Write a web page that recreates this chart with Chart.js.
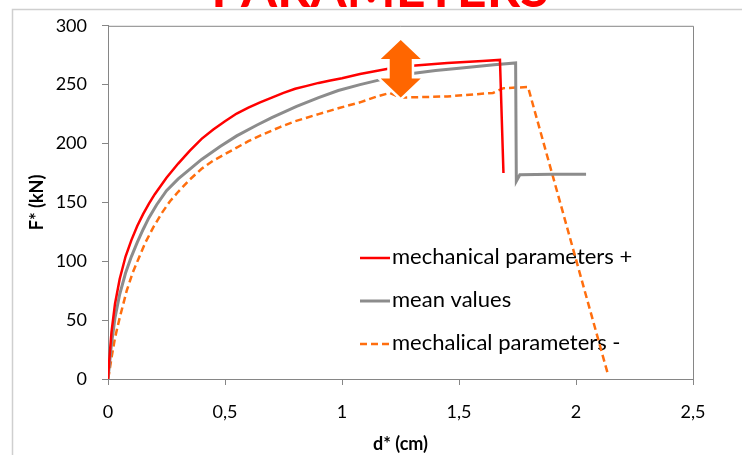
<!DOCTYPE html>
<html>
<head>
<meta charset="utf-8">
<script src="https://cdn.jsdelivr.net/npm/chart.js@4.4.0/dist/chart.umd.min.js"></script>
<style>
  html, body { margin: 0; padding: 0; background: #fff; }
  #wrap { width: 742px; height: 455px; position: relative; }
</style>
</head>
<body>
<div id="wrap"><canvas id="c" width="742" height="455"></canvas></div>
<script>
// ---- data ----
const titleText = 'PARAMETERS';
const seriesLabels = ['mechanical parameters +', 'mean values', 'mechalical parameters -'];

const plusX = [0, 0.005, 0.015, 0.03, 0.05, 0.075, 0.1, 0.125, 0.15, 0.175, 0.2, 0.25, 0.3, 0.35, 0.4, 0.45, 0.5, 0.55, 0.6, 0.65, 0.7, 0.75, 0.8, 0.85, 0.9, 0.95, 1.0, 1.077, 1.197, 1.30, 1.45, 1.60, 1.675, 1.69];
const plusY = [0, 15, 40, 64, 85, 104, 118, 130, 140, 149, 157, 171, 183, 194, 204, 212, 219, 225.5, 230.5, 235, 239, 243, 246.5, 249, 251.5, 253.5, 255.5, 259, 263.5, 266, 268.5, 270, 271, 175];

const meanX = [0, 0.005, 0.015, 0.03, 0.05, 0.075, 0.1, 0.125, 0.15, 0.175, 0.208, 0.25, 0.3, 0.336, 0.4, 0.479, 0.55, 0.635, 0.7, 0.806, 0.9, 0.984, 1.077, 1.17, 1.30, 1.4, 1.5, 1.65, 1.742, 1.745, 1.76, 1.9, 2.043];
const meanY = [0, 10, 30, 52, 72, 90, 104, 116, 127, 137, 148, 160, 170, 176, 186.5, 197.5, 206.5, 215.5, 222, 231.5, 239, 245, 250, 254.5, 259.5, 262, 264, 267, 268.5, 168, 173.5, 174, 174];

const minusX = [0, 0.005, 0.015, 0.03, 0.05, 0.08, 0.105, 0.13, 0.16, 0.194, 0.23, 0.265, 0.3, 0.35, 0.4, 0.45, 0.536, 0.6, 0.665, 0.735, 0.8, 0.9, 0.984, 1.077, 1.15, 1.205, 1.248, 1.45, 1.645, 1.69, 1.795, 2.135];
const minusY = [0, 5, 18, 35, 52, 75, 90, 102, 116, 129, 141, 151, 159, 169.5, 178.5, 185.5, 195, 202, 208, 214, 219, 225, 230, 235, 240, 243, 239, 240, 243, 247, 248, 5];

const xTickLabels = ['0', '0,5', '1', '1,5', '2', '2,5'];
const yTickLabels = ['0', '50', '100', '150', '200', '250', '300'];

// arrow annotation (data units): x centre, bottom tip, top tip
const arrowX = 1.251, arrowYLow = 239, arrowYHigh = 288;

const toPts = (xs, ys) => xs.map((x, i) => ({ x: x, y: ys[i] }));

const RED = '#ff0000', GRAY = '#8c8c8c', ORANGE = '#ff6e0e', AXIS = '#868686';
const FONT = 'Lato';

const framePlugin = {
  id: 'frame',
  beforeDraw(chart) {
    const ctx = chart.ctx;
    ctx.save();
    ctx.fillStyle = '#fff';
    ctx.fillRect(0, 0, chart.width, chart.height);
    // title (cut at top)
    ctx.fillStyle = '#ff0000';
    ctx.font = 'bold 52px ' + FONT;
    ctx.textAlign = 'center';
    ctx.textBaseline = 'alphabetic';
    ctx.fillText(titleText, 380, 7);
    // outer chart frame
    ctx.strokeStyle = '#cfcfcf';
    ctx.lineWidth = 1.5;
    ctx.beginPath();
    ctx.moveTo(742, 9.5);
    ctx.lineTo(12.5, 9.5);
    ctx.lineTo(12.5, 455);
    ctx.stroke();
    ctx.restore();
  },
  beforeDatasetsDraw(chart) {
    const ctx = chart.ctx, a = chart.chartArea;
    ctx.save();
    // plot border top/right
    ctx.strokeStyle = AXIS;
    ctx.lineWidth = 1;
    ctx.beginPath();
    ctx.moveTo(a.left, a.top + 0.5);
    ctx.lineTo(a.right + 0.5, a.top + 0.5);
    ctx.lineTo(a.right + 0.5, a.bottom);
    ctx.stroke();
    // legend inside plot
    const lx = 360, ly0 = 258, dy = 43;
    chart.data.datasets.forEach((ds, i) => {
      const y = ly0 + i * dy;
      ctx.strokeStyle = ds.borderColor;
      ctx.lineWidth = ds.borderWidth;
      ctx.setLineDash(ds.borderDash || []);
      ctx.beginPath();
      ctx.moveTo(lx, y);
      ctx.lineTo(lx + 30, y);
      ctx.stroke();
      ctx.setLineDash([]);
      ctx.fillStyle = '#000';
      ctx.font = '22px ' + FONT;
      ctx.textAlign = 'left';
      ctx.textBaseline = 'alphabetic';
      ctx.fillText(ds.label, lx + 32, y + 6);
    });
    ctx.restore();
  },
  afterDatasetsDraw(chart) {
    const ctx = chart.ctx;
    const xs = chart.scales.x, ys = chart.scales.y;
    const cx = xs.getPixelForValue(arrowX);
    const yt = ys.getPixelForValue(arrowYHigh);
    const yb = ys.getPixelForValue(arrowYLow);
    const hh = 19, hw = 20, sw = 11;
    ctx.save();
    ctx.beginPath();
    ctx.moveTo(cx, yt);
    ctx.lineTo(cx + hw, yt + hh);
    ctx.lineTo(cx + sw, yt + hh);
    ctx.lineTo(cx + sw, yb - hh);
    ctx.lineTo(cx + hw, yb - hh);
    ctx.lineTo(cx, yb);
    ctx.lineTo(cx - hw, yb - hh);
    ctx.lineTo(cx - sw, yb - hh);
    ctx.lineTo(cx - sw, yt + hh);
    ctx.lineTo(cx - hw, yt + hh);
    ctx.closePath();
    ctx.strokeStyle = '#fff';
    ctx.lineWidth = 5;
    ctx.lineJoin = 'miter';
    ctx.stroke();
    ctx.fillStyle = '#ff6600';
    ctx.fill();
    ctx.restore();
  }
};

new Chart(document.getElementById('c'), {
  type: 'line',
  data: {
    datasets: [
      { label: seriesLabels[0], data: toPts(plusX, plusY), borderColor: RED, borderWidth: 2.5, pointRadius: 0, tension: 0 },
      { label: seriesLabels[1], data: toPts(meanX, meanY), borderColor: GRAY, borderWidth: 3, pointRadius: 0, tension: 0 },
      { label: seriesLabels[2], data: toPts(minusX, minusY), borderColor: ORANGE, borderWidth: 2.5, borderDash: [7, 4], pointRadius: 0, tension: 0 }
    ]
  },
  options: {
    responsive: false,
    animation: false,
    events: [],
    layout: { padding: { top: 25, right: 49, left: 0, bottom: 0 } },
    plugins: { legend: { display: false }, tooltip: { enabled: false }, title: { display: false } },
    scales: {
      x: {
        type: 'linear', min: 0, max: 2.5,
        afterFit(s) { s.height = 76; },
        ticks: { stepSize: 0.5, color: '#000', font: { family: FONT, size: 18 }, padding: 16,
                 callback: (v) => xTickLabels[Math.round(v / 0.5)] },
        grid: { drawOnChartArea: false, drawTicks: true, tickLength: 6, color: AXIS },
        border: { display: true, color: AXIS, width: 1 },
        title: { display: true, text: 'd* (cm)', color: '#000', font: { family: FONT, size: 18, weight: 'bold' }, padding: { top: 0, bottom: 0 } }
      },
      y: {
        type: 'linear', min: 0, max: 300,
        afterFit(s) { s.width = 108; },
        ticks: { stepSize: 50, color: '#000', font: { family: FONT, size: 18 }, padding: 15,
                 callback: (v) => yTickLabels[Math.round(v / 50)] },
        grid: { drawOnChartArea: false, drawTicks: true, tickLength: 6, color: AXIS },
        border: { display: true, color: AXIS, width: 1 },
        title: { display: true, text: 'F* (kN)', color: '#000', font: { family: FONT, size: 18, weight: 'bold' }, padding: { top: 26, bottom: 0 } }
      }
    }
  },
  plugins: [framePlugin]
});
</script>
</body>
</html>
